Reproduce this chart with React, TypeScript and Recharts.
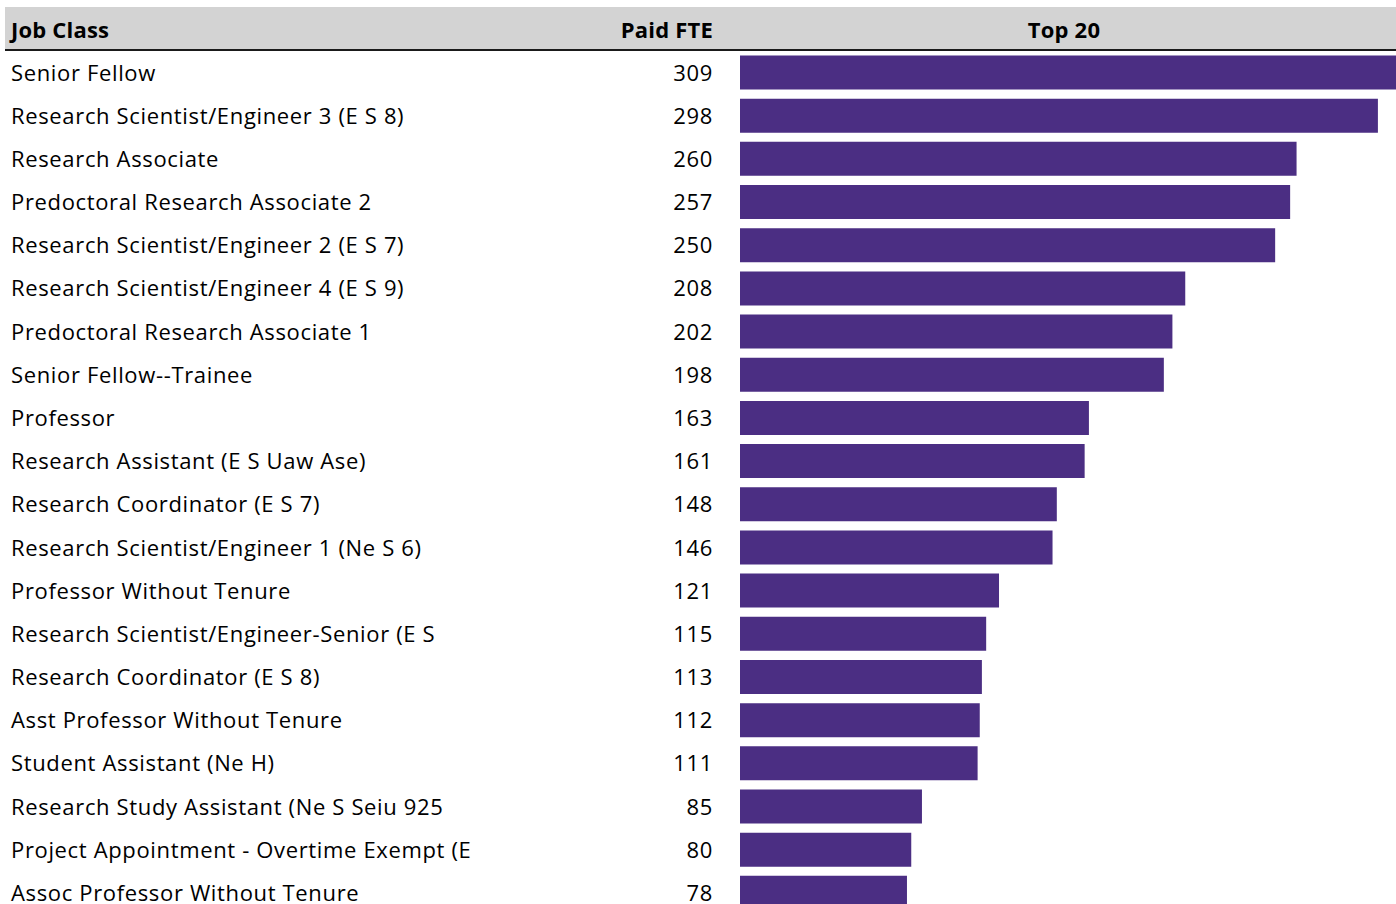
import React from "react";
import { BarChart, Bar, XAxis, YAxis } from "recharts";

const jobClasses = [
  "Senior Fellow",
  "Research Scientist/Engineer 3 (E S 8)",
  "Research Associate",
  "Predoctoral Research Associate 2",
  "Research Scientist/Engineer 2 (E S 7)",
  "Research Scientist/Engineer 4 (E S 9)",
  "Predoctoral Research Associate 1",
  "Senior Fellow--Trainee",
  "Professor",
  "Research Assistant (E S Uaw Ase)",
  "Research Coordinator (E S 7)",
  "Research Scientist/Engineer 1 (Ne S 6)",
  "Professor Without Tenure",
  "Research Scientist/Engineer-Senior (E S",
  "Research Coordinator (E S 8)",
  "Asst Professor Without Tenure",
  "Student Assistant (Ne H)",
  "Research Study Assistant (Ne S Seiu 925",
  "Project Appointment - Overtime Exempt (E",
  "Assoc Professor Without Tenure",
];

const paidFte = [309, 298, 260, 257, 250, 208, 202, 198, 163, 161, 148, 146, 121, 115, 113, 112, 111, 85, 80, 78];

const headers = ["Job Class", "Paid FTE", "Top 20"];

const data = jobClasses.map((name, i) => ({ name, fte: paidFte[i] }));

const FONT = "'Open Sans', Lato, sans-serif";

const Tick = (props: any) => {
  const { y, payload } = props;
  const idx = payload.index;
  return (
    <g>
      <text x={11} y={y} dy={8.5} fontSize={22} letterSpacing={0.65} fill="#000" fontFamily={FONT}>
        {payload.value}
      </text>
      <text
        x={713}
        y={y}
        dy={8.5}
        fontSize={22}
        letterSpacing={0.65}
        fill="#000"
        textAnchor="end"
        fontFamily={FONT}
      >
        {paidFte[idx]}
      </text>
    </g>
  );
};

export default function App() {
  return (
    <div
      style={{
        position: "absolute",
        left: 0,
        top: 0,
        width: 1396,
        height: 904,
        overflow: "hidden",
        background: "#fff",
        fontFamily: FONT,
      }}
    >
      <div
        style={{
          position: "absolute",
          left: 5,
          top: 7,
          width: 1391,
          height: 42,
          background: "#d3d3d3",
          borderBottom: "2px solid #1a1a1a",
          fontWeight: 700,
          fontSize: 22,
          letterSpacing: 0.2,
          color: "#000",
          lineHeight: "30px",
        }}
      >
        <span style={{ position: "absolute", left: 6, top: 7 }}>{headers[0]}</span>
        <span style={{ position: "absolute", right: 1396 - 713, top: 7 }}>{headers[1]}</span>
        <span style={{ position: "absolute", left: 1064 - 5, top: 7, transform: "translateX(-50%)" }}>
          {headers[2]}
        </span>
      </div>
      <div style={{ position: "absolute", left: 0, top: 0 }}>
        <BarChart
          width={1425}
          height={914}
          data={data}
          layout="vertical"
          margin={{ top: 50.5, right: 0, bottom: 0, left: 0 }}
          barCategoryGap={9}
        >
          <XAxis type="number" domain={[0, 320]} hide />
          <YAxis
            type="category"
            dataKey="name"
            width={740}
            axisLine={false}
            tickLine={false}
            tick={<Tick />}
            interval={0}
          />
          <Bar dataKey="fte" fill="#4b2e83" barSize={34} isAnimationActive={false} />
        </BarChart>
      </div>
    </div>
  );
}
